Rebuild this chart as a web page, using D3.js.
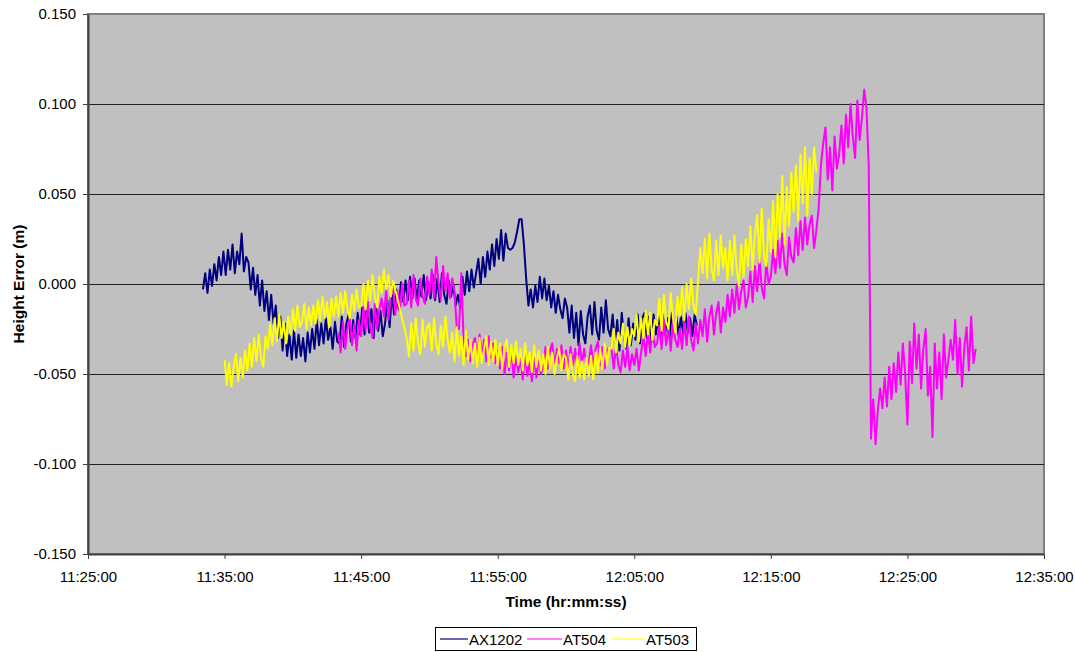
<!DOCTYPE html>
<html>
<head>
<meta charset="utf-8">
<script src="https://cdn.jsdelivr.net/npm/d3@7"></script>
<style>
  html, body { margin: 0; padding: 0; background: #fff; }
  svg { display: block; font-family: "Liberation Sans", Arial, sans-serif; }
</style>
</head>
<body>
<svg id="chart" width="1075" height="652"></svg>
<script>
// Height error of three GPS receivers over time (values in millimetres, 10 s samples)
const seriesNames = ["AX1202", "AT504", "AT503"];
const seriesColors = ["#000080", "#FF00FF", "#FFFF00"];
const sampleStepSec = 10;

const xTickLabels = ["11:25:00", "11:35:00", "11:45:00", "11:55:00", "12:05:00", "12:15:00", "12:25:00", "12:35:00"];
const yTickValues = [-0.15, -0.10, -0.05, 0.00, 0.05, 0.10, 0.15];

// AX1202: one run starting 11:33:25
const AX1202_start = ["11:33:25"];
const AX1202_mm = [
  -3, 6, -5, 8, -1, 11, 2, 15, 5, 18,
  5, 19, 8, 22, 6, 18, 11, 28, 7, 15,
  12, -3, 9, -6, 5, -12, 2, -15, -4, -20,
  -6, -22, -12, -30, -18, -37, -22, -40, -28, -42,
  -26, -41, -28, -40, -30, -43, -27, -38, -25, -36,
  -20, -34, -22, -33, -19, -31, -24, -36, -21, -32,
  -33, -18, -35, -22, -17, -32, -20, -30, -16, -28,
  -13, -28, -12, -27, -14, -30, -11, -26, -15, -29,
  -22, -9, -24, -6, -17, -3, -14, 1, -10, 2,
  -9, 4, -8, 3, -10, 2, -7, 5, -9, 1,
  -8, 5, -9, 3, -10, 6, -6, -11, 2, -7,
  0, -12, -6, -13, 4, -6, 7, -4, 8, -2,
  6, 14, 0, 15, 4, 18, 8, 22, 10, 25,
  14, 30, 13, 28, 20, 19, 20, 23, 29, 36,
  36, 22, 3, -12, -3, -13, -1, -10, 4, -8,
  3, -9, -1, -13, -4, -16, -6, -14, -19, -8,
  -13, -27, -12, -30, -16, -34, -15, -28, -33, -18,
  -12, -28, -10, -26, -31, -13, -27, -9, -25, -29,
  -17, -33, -20, -37, -16, -30, -36, -19, -34, -22,
  -31, -17, -33, -19, -16, -30, -18, -32, -17, -28,
  -18, -29, -17, -28, -19, -30, -16, -27, -18, -29,
  -18, -28, -16, -27, -19, -29, -17, -23
];

// AT504: one run starting 11:43:20
const AT504_start = ["11:43:20"];
const AT504_mm = [
  -27, -38, -21, -36, -24, -19, -34, -22, -37, -20,
  -29, -13, -26, -10, -24, -30, -11, -25, -14, -8,
  -18, -3, -20, -6, -1, -17, -4, -15, 0, -12,
  -11, 2, -13, 5, -8, -12, 3, -7, -11, 4,
  -6, 8, -8, 15, 0, -9, 10, -4, 6, -8,
  3, -4, -24, -25, 6, -30, -40, -31, -43, -34,
  -30, -42, -28, -40, -31, -43, -29, -41, -33, -44,
  -37, -47, -35, -50, -38, -48, -37, -52, -40, -49,
  -41, -53, -39, -51, -43, -54, -40, -52, -42, -50,
  -45, -35, -47, -37, -33, -46, -36, -44, -34, -47,
  -37, -48, -35, -45, -36, -47, -33, -44, -36, -46,
  -44, -34, -46, -36, -32, -45, -35, -47, -37, -35,
  -36, -47, -34, -45, -49, -37, -46, -35, -48, -39,
  -45, -36, -48, -38, -29, -40, -27, -38, -25, -35,
  -33, -23, -36, -20, -34, -24, -37, -21, -31, -35,
  -25, -36, -21, -34, -18, -31, -37, -22, -33, -20,
  -29, -14, -32, -18, -12, -28, -16, -10, -27, -13,
  -21, -6, -18, -3, -16, 0, -14, -4, 2, -13,
  -7, 7, -10, 10, -4, 14, -2, -8, 12, 0,
  4, 19, 6, 24, 9, 28, 11, 5, 26, 15,
  12, 31, 16, 35, 19, 37, 22, 33, 38, 20,
  30, 42, 66, 78, 87, 58, 76, 52, 82, 64,
  72, 88, 67, 94, 76, 100, 82, 70, 102, 80,
  92, 108, 98, 66, -86, -64, -89, -70, -58, -69,
  -52, -68, -46, -64, -44, -60, -38, -56, -33, -50,
  -78, -32, -55, -22, -47, -28, -58, -36, -25, -62,
  -46, -85, -33, -58, -38, -64, -28, -52, -42, -31,
  -42, -20, -50, -30, -57, -35, -24, -48, -18, -44,
  -36
];

// AT503: two runs separated by a short outage near 11:48
const AT503_start = ["11:35:00", "11:48:20"];
const AT503_mm_a = [
  -42, -56, -44, -57, -46, -39, -54, -41, -52, -37,
  -48, -33, -46, -30, -43, -28, -41, -46, -29, -36,
  -22, -34, -19, -32, -17, -30, -21, -33, -18, -28,
  -14, -26, -12, -24, -21, -11, -25, -13, -23, -12,
  -22, -9, -20, -7, -19, -10, -24, -8, -18, -7,
  -18, -5, -16, -4, -14, -19, -6, -15, -3, -13,
  -12, 0, -14, 2, -9, 5, -7, -13, 4, -5,
  8, -3, 5, -7, 2, -3
];
const AT503_mm_b = [
  -30, -40, -22, -37, -19, -33, -39, -20, -35, -24,
  -22, -37, -19, -33, -39, -23, -35, -18, -31, -38,
  -27, -43, -24, -40, -29, -45, -26, -42, -31, -44,
  -33, -46, -30, -44, -36, -29, -45, -32, -43, -31,
  -45, -33, -47, -35, -31, -46, -34, -44, -32, -45,
  -36, -48, -33, -45, -38, -49, -34, -46, -37, -48,
  -39, -50, -35, -47, -38, -50, -41, -36, -48, -39,
  -41, -53, -39, -50, -54, -40, -52, -43, -53, -41,
  -51, -40, -53, -38, -49, -36, -47, -33, -45, -35,
  -36, -25, -38, -27, -33, -22, -35, -24, -34, -25,
  -29, -17, -32, -19, -30, -15, -28, -16, -31, -20,
  -23, -8, -26, -6, -21, -25, -5, -19, -27, -7,
  -18, -2, -20, 0, -14, 3, -12, -17, 2, 20,
  6, 25, 3, 28, 8, 2, 24, 5, 27, 9,
  20, 2, 24, 5, 27, 8, -1, 22, 4, 25,
  10, 32, 8, 28, 38, 12, 42, 15, 10, 36,
  18, 46, 15, 50, 26, 60, 22, 54, 32, 62,
  40, 66, 35, 72, 45, 76, 38, 70, 50, 76,
  62
];

const parseClock = d3.timeParse("%H:%M:%S");
const fmtClock = d3.timeFormat("%H:%M:%S");

// Turn (start time, mm readings) runs into {t, v} points in metres
function buildPoints(starts, runs) {
  const pts = [];
  runs.forEach((run, k) => {
    const t0 = parseClock(starts[k]);
    run.forEach((mm, i) => {
      pts.push({ t: new Date(t0.getTime() + i * sampleStepSec * 1000), v: mm / 1000 });
    });
  });
  return pts;
}

const series = [
  buildPoints(AX1202_start, [AX1202_mm]),
  buildPoints(AT504_start, [AT504_mm]),
  buildPoints(AT503_start, [AT503_mm_a, AT503_mm_b])
];

const svg = d3.select("#chart");
const plot = { left: 88, right: 1044, top: 14, bottom: 554 };
const fontFamily = "Liberation Sans, Arial, sans-serif";

const x = d3.scaleTime()
  .domain([parseClock(xTickLabels[0]), parseClock(xTickLabels[xTickLabels.length - 1])])
  .range([plot.left, plot.right]);
const y = d3.scaleLinear()
  .domain([yTickValues[0], yTickValues[yTickValues.length - 1]])
  .range([plot.bottom, plot.top]);

// Plot background
svg.append("rect")
  .attr("x", plot.left).attr("y", plot.top)
  .attr("width", plot.right - plot.left).attr("height", plot.bottom - plot.top)
  .attr("fill", "#C0C0C0")
  .attr("stroke", "#808080").attr("stroke-width", 2);

// Horizontal gridlines
svg.append("g")
  .selectAll("line")
  .data(yTickValues.slice(1, -1))
  .join("line")
  .attr("x1", plot.left).attr("x2", plot.right)
  .attr("y1", d => Math.round(y(d)) + 0.5).attr("y2", d => Math.round(y(d)) + 0.5)
  .attr("stroke", "#222").attr("stroke-width", 1);

// Series lines
const line = d3.line().x(d => x(d.t)).y(d => y(d.v));
const clipId = "plot-clip";
svg.append("clipPath").attr("id", clipId)
  .append("rect")
  .attr("x", plot.left).attr("y", plot.top)
  .attr("width", plot.right - plot.left).attr("height", plot.bottom - plot.top);

svg.append("g").attr("clip-path", `url(#${clipId})`)
  .selectAll("path")
  .data(series)
  .join("path")
  .attr("d", line)
  .attr("fill", "none")
  .attr("stroke", (d, i) => seriesColors[i])
  .attr("stroke-width", 2)
  .attr("stroke-linejoin", "round");

// Axes
const xAxis = d3.axisBottom(x)
  .tickValues(xTickLabels.map(parseClock))
  .tickFormat(fmtClock)
  .tickSize(5).tickSizeOuter(0);
const gx = svg.append("g")
  .attr("transform", `translate(0,${plot.bottom})`)
  .call(xAxis);
gx.select(".domain").attr("stroke", "#404040").attr("stroke-width", 2);
gx.selectAll(".tick line").attr("stroke", "#404040");
gx.selectAll(".tick text")
  .attr("y", 17)
  .attr("font-size", 15).attr("fill", "#000")
  .attr("font-family", fontFamily);

const yAxis = d3.axisLeft(y)
  .tickValues(yTickValues)
  .tickFormat(d3.format(".3f"))
  .tickSize(5).tickSizeOuter(0);
const gy = svg.append("g")
  .attr("transform", `translate(${plot.left},0)`)
  .call(yAxis);
gy.select(".domain").attr("stroke", "#404040").attr("stroke-width", 2);
gy.selectAll(".tick line").attr("stroke", "#404040");
gy.selectAll(".tick text")
  .attr("x", -12)
  .attr("font-size", 15).attr("fill", "#000")
  .attr("font-family", fontFamily)
  .text(d => d3.format(".3f")(d).replace("\u2212", "-"));

// Axis titles
svg.append("text")
  .attr("x", (plot.left + plot.right) / 2).attr("y", 607)
  .attr("text-anchor", "middle")
  .attr("font-size", 15.5).attr("font-weight", "bold")
  .text("Time (hr:mm:ss)");
svg.append("text")
  .attr("transform", `translate(24,${(plot.top + plot.bottom) / 2}) rotate(-90)`)
  .attr("text-anchor", "middle")
  .attr("font-size", 15.5).attr("font-weight", "bold")
  .text("Height Error (m)");

// Legend: box, then a line sample and label per series
const legendBox = { x: 435, y: 627, w: 261, h: 23 };
const legendLineX = [[440, 468], [527, 562], [612, 645]];
const legend = svg.append("g");
legend.append("rect")
  .attr("x", legendBox.x + 0.5).attr("y", legendBox.y + 0.5)
  .attr("width", legendBox.w).attr("height", legendBox.h)
  .attr("fill", "#fff").attr("stroke", "#000").attr("stroke-width", 1);
const midY = legendBox.y + 12;
const items = legend.selectAll("g.item")
  .data(seriesNames)
  .join("g").attr("class", "item");
items.append("line")
  .attr("x1", (d, i) => legendLineX[i][0]).attr("x2", (d, i) => legendLineX[i][1])
  .attr("y1", midY).attr("y2", midY)
  .attr("stroke", (d, i) => seriesColors[i]).attr("stroke-width", 1.2);
items.append("text")
  .attr("x", (d, i) => legendLineX[i][1] + 1).attr("y", midY + 5.5)
  .attr("font-size", 15).attr("fill", "#000")
  .text(d => d);
</script>
</body>
</html>
